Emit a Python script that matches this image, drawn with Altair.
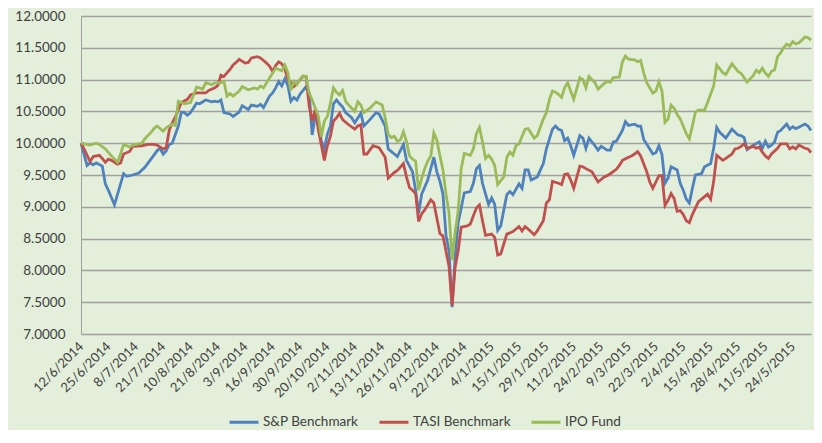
import altair as alt
import pandas as pd

# tick labels: every 9th trading day
date_labels = ['12/6/2014', '25/6/2014', '8/7/2014', '21/7/2014', '10/8/2014', '21/8/2014',
               '3/9/2014', '16/9/2014', '30/9/2014', '20/10/2014', '2/11/2014', '13/11/2014',
               '26/11/2014', '9/12/2014', '22/12/2014', '4/1/2015', '15/1/2015', '29/1/2015',
               '11/2/2015', '24/2/2015', '9/3/2015', '22/3/2015', '2/4/2015', '15/4/2015',
               '28/4/2015', '11/5/2015', '24/5/2015']
series_names = ['S&P Benchmark', 'TASI Benchmark', 'IPO Fund']
series_colors = ['#4F81BD', '#C0504D', '#9BBB59']

# (trading-day index, value)
sp_points = [(0,10.00),(2,9.65),(3,9.69),(4,9.66),(5,9.69),(7,9.64),(8,9.36),(9,9.26),(11,9.03),
 (14,9.52),(15,9.48),(17,9.50),(19,9.53),(21,9.62),(23,9.75),(25,9.88),(26,9.92),(27,9.83),(28,9.88),
 (29,9.98),(30,10.00),(32,10.27),(33,10.49),(34,10.48),(35,10.44),(36,10.48),(38,10.63),(39,10.62),
 (41,10.68),(43,10.65),(44,10.66),(45,10.65),(46,10.68),(47,10.48),(49,10.46),(50,10.42),(52,10.49),
 (53,10.59),(55,10.53),(56,10.60),(58,10.58),(59,10.61),(60,10.56),(62,10.74),(63,10.79),(64,10.87),
 (65,10.97),(66,10.90),(67,11.01),(68,10.91),(69,10.66),(70,10.72),(71,10.68),(72,10.77),(74,10.89),
 (75,10.79),(76,10.13),(77,10.43),(78,10.33),(79,10.04),(80,9.91),(81,10.14),(82,10.27),(83,10.62),
 (84,10.68),(85,10.62),(86,10.57),(87,10.48),(89,10.40),(90,10.32),(92,10.47),(93,10.27),(95,10.37),
 (97,10.48),(98,10.46),(100,10.27),(101,9.91),(103,9.83),(104,9.79),(106,9.98),(107,9.73),(109,9.55),
 (110,9.26),(111,8.90),(112,9.20),(113,9.31),(114,9.42),(116,9.78),(117,9.55),(118,9.40),(119,9.20),
 (120,8.55),(121,8.30),(122,7.42),(123,8.20),(124,8.75),(125,8.98),(126,9.22),(128,9.24),(129,9.37),
 (130,9.60),(131,9.65),(132,9.37),(133,9.20),(134,9.04),(135,9.14),(136,9.04),(137,8.63),(138,8.70),
 (139,8.95),(140,9.19),(141,9.24),(142,9.19),(144,9.36),(145,9.29),(146,9.58),(147,9.58),(148,9.42),
 (150,9.47),(152,9.68),(153,9.91),(155,10.22),(156,10.27),(157,10.22),(158,10.20),(159,10.04),
 (160,10.08),(161,9.96),(162,9.81),(164,10.12),(165,10.08),(166,9.92),(167,10.08),(169,9.96),
 (170,9.89),(171,9.95),(173,9.89),(174,9.89),(175,10.02),(176,10.03),(178,10.20),(179,10.34),
 (180,10.28),(182,10.30),(183,10.27),(184,10.27),(185,10.06),(187,9.91),(188,9.83),(189,9.85),
 (190,9.96),(191,9.82),(192,9.37),(193,9.45),(194,9.63),(196,9.58),(197,9.37),(198,9.26),(199,9.12),
 (200,9.06),(201,9.29),(202,9.50),(204,9.52),(205,9.63),(207,9.68),(208,9.92),(209,10.25),(210,10.17),
 (212,10.08),(214,10.22),(216,10.13),(217,10.12),(218,10.09),(219,9.90),(221,9.97),(223,10.02),
 (224,9.92),(225,10.03),(226,9.94),(227,9.97),(228,10.02),(229,10.17),(230,10.20),(232,10.30),
 (233,10.22),(234,10.26),(235,10.23),(236,10.25),(238,10.30),(239,10.27),(240,10.20)]

tasi_points = [(0,10.00),(1,9.91),(3,9.71),(4,9.79),(6,9.81),(7,9.76),(8,9.70),(9,9.75),(10,9.73),
 (12,9.67),(13,9.69),(14,9.83),(16,9.87),(17,9.95),(20,9.96),(22,9.98),(24,9.98),(25,9.97),(27,9.91),
 (28,9.93),(29,10.20),(30,10.32),(31,10.41),(33,10.64),(35,10.69),(36,10.76),(38,10.79),(41,10.79),
 (42,10.83),(44,10.87),(45,10.91),(46,11.07),(47,11.05),(49,11.16),(50,11.23),(51,11.27),(52,11.32),
 (54,11.26),(55,11.27),(56,11.34),(58,11.36),(59,11.34),(60,11.30),(61,11.26),(62,11.21),(63,11.13),
 (64,11.22),(65,11.28),(66,11.25),(67,11.17),(68,11.00),(69,10.95),(70,10.89),(71,10.94),(73,11.05),
 (74,11.05),(75,10.59),(76,10.35),(77,10.53),(78,10.22),(80,9.73),(81,9.96),(82,10.11),(83,10.35),
 (84,10.40),(85,10.47),(86,10.37),(88,10.29),(90,10.22),(91,10.27),(92,10.29),(93,9.83),(94,9.83),
 (96,9.96),(98,9.93),(100,9.78),(101,9.45),(103,9.54),(104,9.57),(106,9.68),(107,9.47),(108,9.30),
 (109,9.26),(110,9.21),(111,8.77),(112,8.89),(113,8.95),(115,9.11),(116,9.06),(117,8.82),(118,8.58),
 (119,8.54),(120,8.30),(121,8.06),(122,7.45),(123,8.05),(124,8.31),(125,8.68),(127,8.70),(128,8.73),
 (129,8.86),(130,8.98),(131,9.03),(132,8.78),(133,8.55),(135,8.57),(136,8.52),(137,8.24),(138,8.26),
 (140,8.57),(142,8.61),(144,8.69),(145,8.62),(146,8.69),(147,8.65),(149,8.56),(150,8.62),(152,8.78),
 (153,9.06),(154,9.11),(155,9.40),(157,9.37),(158,9.35),(159,9.51),(160,9.52),(161,9.42),(162,9.29),
 (164,9.64),(165,9.63),(166,9.60),(168,9.55),(169,9.47),(170,9.39),(172,9.47),(173,9.49),(174,9.52),
 (176,9.59),(177,9.65),(178,9.73),(180,9.78),(181,9.80),(182,9.83),(183,9.87),(184,9.80),(186,9.55),
 (187,9.39),(188,9.29),(189,9.39),(190,9.49),(191,9.49),(192,9.02),(193,9.10),(194,9.21),(195,9.13),
 (196,8.93),(197,8.94),(198,8.88),(199,8.78),(200,8.75),(201,8.88),(202,8.98),(203,9.08),(205,9.16),
 (206,9.20),(207,9.12),(208,9.40),(209,9.81),(211,9.73),(212,9.76),(214,9.83),(215,9.91),(216,9.92),
 (217,9.95),(218,9.99),(219,9.92),(221,9.95),(222,9.92),(223,9.94),(224,9.86),(225,9.80),(226,9.76),
 (227,9.83),(229,9.92),(230,9.99),(232,9.99),(233,9.91),(234,9.94),(235,9.91),(236,9.97),(238,9.92),
 (239,9.91),(240,9.85)]

ipo_points = [(0,10.00),(3,9.97),(5,10.00),(6,9.98),(8,9.91),(10,9.80),(12,9.70),(13,9.83),(14,9.98),
 (16,9.94),(17,9.97),(20,10.00),(21,10.07),(23,10.17),(24,10.23),(25,10.27),(27,10.19),(28,10.24),
 (30,10.30),(31,10.28),(32,10.66),(34,10.62),(36,10.64),(38,10.88),(39,10.87),(40,10.85),(41,10.95),
 (43,10.92),(44,10.95),(46,10.95),(47,10.97),(48,10.74),(49,10.78),(50,10.74),(52,10.82),(53,10.89),
 (55,10.84),(57,10.87),(58,10.85),(59,10.90),(60,10.87),(62,11.03),(63,11.10),(64,11.18),(65,11.16),
 (66,11.14),(67,11.23),(68,11.11),(69,10.83),(70,10.97),(71,10.92),(72,11.01),(73,11.06),(74,11.05),
 (75,10.79),(76,10.68),(78,10.43),(79,10.10),(80,10.35),(81,10.42),(82,10.63),(83,10.87),(84,10.80),
 (85,10.76),(86,10.83),(87,10.66),(88,10.60),(89,10.55),(90,10.50),(91,10.65),(92,10.60),(93,10.48),
 (95,10.55),(97,10.65),(99,10.60),(100,10.40),(101,10.14),(102,10.09),(103,10.11),(104,10.03),
 (105,10.05),(106,10.18),(107,10.03),(108,9.80),(109,9.75),(110,9.72),(111,9.26),(112,9.45),(113,9.60),
 (114,9.72),(115,9.80),(116,10.16),(117,10.05),(118,9.80),(119,9.58),(120,9.20),(121,8.90),(122,8.16),
 (123,8.60),(124,8.93),(125,9.60),(126,9.84),(128,9.81),(129,9.91),(130,10.15),(131,10.25),(132,10.02),
 (133,9.76),(134,9.81),(135,9.75),(136,9.65),(137,9.35),(139,9.47),(140,9.78),(141,9.86),(142,9.81),
 (143,9.96),(144,9.99),(146,10.22),(147,10.23),(149,10.08),(150,10.12),(151,10.25),(152,10.38),
 (153,10.48),(154,10.69),(155,10.82),(156,10.80),(157,10.77),(158,10.72),(159,10.87),(160,10.95),
 (161,10.82),(162,10.69),(164,11.03),(165,11.00),(166,10.87),(167,11.05),(169,10.95),(170,10.85),
 (172,10.94),(173,10.97),(174,10.96),(175,11.03),(177,11.04),(178,11.28),(179,11.37),(180,11.32),
 (182,11.31),(183,11.28),(184,11.30),(185,11.10),(186,10.95),(188,10.79),(189,10.82),(190,10.97),
 (191,10.82),(192,10.33),(193,10.38),(194,10.60),(195,10.55),(196,10.45),(197,10.38),(198,10.27),
 (199,10.15),(200,10.07),(201,10.27),(202,10.49),(203,10.52),(205,10.52),(206,10.64),(208,10.90),
 (209,11.23),(211,11.11),(212,11.08),(214,11.25),(216,11.13),(217,11.10),(219,10.96),(221,11.06),
 (222,11.15),(223,11.11),(224,11.18),(225,11.10),(226,11.05),(227,11.13),(228,11.15),(229,11.36),
 (230,11.42),(231,11.50),(232,11.56),(233,11.53),(234,11.60),(235,11.56),(236,11.58),(237,11.62),
 (238,11.67),(239,11.66),(240,11.62)]

rows = []
for name, pts in zip(series_names, [sp_points, tasi_points, ipo_points]):
    for i, v in pts:
        rows.append({"idx": i, "value": v, "series": name})
df = pd.DataFrame(rows)

label_array = "[" + ",".join("'" + s + "'" for s in date_labels) + "]"
tick_values = [9 * k for k in range(len(date_labels))]

FONT = "Lato"
TXT = "#404040"
GRID = "#A0A0A0"

chart = alt.Chart(df).mark_line(strokeWidth=2.8).encode(
    x=alt.X("idx:Q",
            scale=alt.Scale(domain=[0, 240], nice=False, zero=False),
            axis=alt.Axis(values=tick_values, labelExpr=label_array + "[round(datum.value/9)]",
                          labelAngle=-45, labelAlign="right", labelBaseline="middle",
                          labelPadding=10, ticks=False, grid=False, title=None,
                          domainColor=GRID, labelFontSize=13, labelColor=TXT, labelFont=FONT,
                          labelOverlap=False, labelBound=False, labelFlush=False)),
    y=alt.Y("value:Q",
            scale=alt.Scale(domain=[7, 12], nice=False, zero=False),
            axis=alt.Axis(values=[7 + 0.5 * k for k in range(11)], format=".4f",
                          ticks=False, grid=True, gridColor=GRID, gridWidth=1.3,
                          domainColor=GRID, labelPadding=16, title=None,
                          labelFontSize=13.5, labelColor=TXT, labelFont=FONT)),
    color=alt.Color("series:N",
                    scale=alt.Scale(domain=series_names, range=series_colors),
                    legend=alt.Legend(title=None, orient="none", direction="horizontal",
                                      legendX=147, legendY=390, symbolType="stroke",
                                      symbolSize=840, symbolStrokeWidth=3,
                                      labelFontSize=13.5, labelColor=TXT, labelFont=FONT,
                                      labelOffset=3, columnPadding=14)),
).properties(
    width=730, height=318,
    autosize=alt.AutoSizeParams(type="none"),
    padding={"left": 73, "top": 8, "right": 3, "bottom": 96},
    background="#E3EFDA",
).configure_view(stroke=None)

chart.save("out.html", embed_options={"renderer": "svg", "actions": False})
